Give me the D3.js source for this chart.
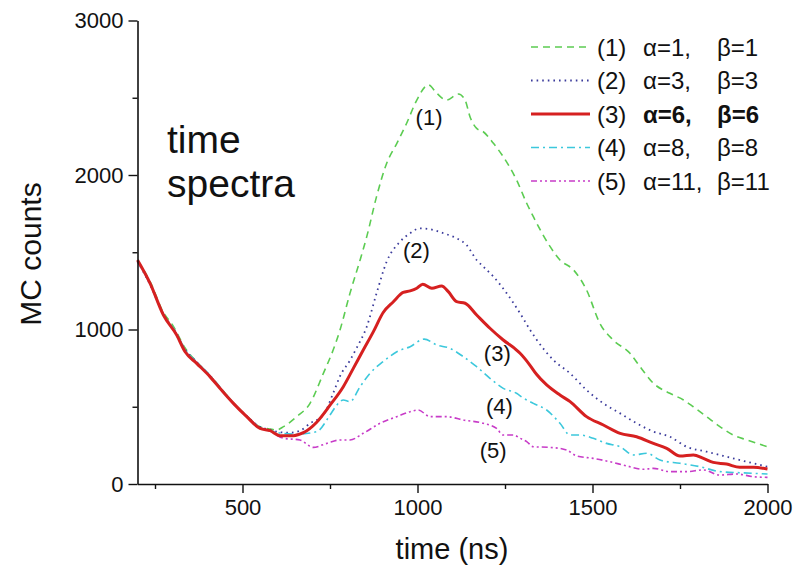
<!DOCTYPE html>
<html><head><meta charset="utf-8">
<script src="https://cdn.jsdelivr.net/npm/d3@7"></script>
<style>body{margin:0;background:#fff}svg{display:block}text{font-family:"Liberation Sans",Arial,sans-serif;fill:#111}</style>
</head><body><svg id="c" width="794" height="568"></svg>
<script>
// ---- data (time in ns, MC counts) ----
const t1 = [200,236,274,300,336,369,407,440,474,512,550,580,598,617,655,693,731,759,779,807,836,855,883,912,941,969,998,1031,1055,1083,1117,1136,1150,1169,1188,1217,1245,1283,1312,1331,1379,1407,1446,1483,1521,1559,1607,1636,1674,1721,1760,1788,1826,1864,1902,1941,2000];
const v1 = [1445,1310,1110,1030,880,790,700,615,525,440,370,355,350,371,436,522,716,867,1000,1234,1450,1601,1860,2076,2205,2335,2485,2583,2529,2485,2524,2485,2377,2302,2280,2205,2118,1968,1817,1730,1536,1450,1385,1256,1040,932,846,759,652,587,544,500,436,371,317,285,241];
const t2 = [200,236,274,300,336,369,407,440,474,512,550,580,607,636,665,693,731,759,779,807,826,855,883,912,950,979,1007,1036,1074,1112,1140,1169,1188,1217,1255,1293,1321,1341,1388,1436,1483,1531,1579,1626,1674,1721,1769,1826,1883,1941,2000];
const v2 = [1440,1290,1100,1010,870,790,700,610,520,440,370,350,335,332,345,393,447,587,700,800,880,1018,1234,1440,1568,1623,1655,1649,1623,1590,1547,1450,1407,1342,1234,1105,1000,932,803,716,608,522,457,393,339,306,241,209,177,144,112];
const t3 = [200,236,274,312,336,369,407,440,474,512,550,579,607,645,674,712,750,788,817,845,874,902,931,959,979,998,1015,1041,1069,1088,1112,1136,1169,1207,1245,1283,1293,1321,1340,1369,1407,1436,1483,1531,1579,1626,1674,1712,1750,1788,1817,1845,1883,1921,1960,2000];
const v3 = [1450,1299,1094,964,856,781,695,608,522,436,360,345,313,313,332,400,510,630,750,867,986,1110,1180,1240,1250,1267,1293,1267,1282,1245,1180,1170,1094,1008,932,867,846,770,710,641,576,533,436,382,328,306,263,231,181,188,166,140,129,108,108,97];
const t4 = [200,236,274,312,336,369,407,440,474,512,550,580,607,655,712,750,769,788,807,836,864,902,941,979,1019,1055,1093,1131,1169,1207,1245,1283,1300,1331,1369,1407,1436,1464,1502,1540,1579,1617,1655,1693,1750,1807,1864,1921,2000];
const v4 = [1440,1295,1100,975,870,790,705,615,525,440,365,345,330,322,339,446,510,544,533,630,716,792,856,889,938,900,878,824,759,684,619,587,560,522,479,393,317,317,296,263,241,188,199,155,134,112,80,73,65];
const t5 = [200,236,274,312,336,369,407,440,474,483,512,550,580,617,664,702,741,779,807,845,893,941,979,1002,1036,1083,1131,1188,1226,1245,1274,1293,1312,1331,1379,1426,1455,1502,1550,1598,1645,1674,1721,1769,1817,1864,1912,1960,2000];
const v5 = [1440,1295,1100,970,865,785,700,610,520,500,440,365,340,296,285,237,263,285,285,328,393,436,468,479,436,436,414,393,360,317,317,296,274,241,237,220,181,166,144,117,95,101,80,80,91,58,65,47,43];
const seriesNames = ["(1)","(2)","(3)","(4)","(5)"];
const alphaLabels = ["\u03b1=1,","\u03b1=3,","\u03b1=6,","\u03b1=8,","\u03b1=11,"];
const betaLabels = ["\u03b2=1","\u03b2=3","\u03b2=6","\u03b2=8","\u03b2=11"];
const xTicks = [500,1000,1500,2000];
const xMinor = [250,750,1250,1750];
const yTicks = [0,1000,2000,3000];
const yMinor = [500,1500,2500];
const curveLabels = [{s:0,t:1033,v:2325},{s:1,t:997,v:1465},{s:2,t:1228,v:795},{s:3,t:1234,v:450},{s:4,t:1216,v:168}];

// ---- styles ----
const styles = [
  {color:"#5ccc52", width:1.6, dash:"7,5"},
  {color:"#3c3c9c", width:1.8, dash:"1.6,4"},
  {color:"#d62020", width:3, dash:null},
  {color:"#3cc8dc", width:1.6, dash:"8,4,2,4"},
  {color:"#c83cc8", width:1.6, dash:"6,3,2,3,2,3"}
];

const svg = d3.select("#c");
const x = d3.scaleLinear().domain([200,2000]).range([137.5,767.5]);
const y = d3.scaleLinear().domain([0,3000]).range([484,20.5]);

const series = [[t1,v1],[t2,v2],[t3,v3],[t4,v4],[t5,v5]].map(([t,v]) => t.map((d,i)=>({t:d,v:v[i]})));
const line = d3.line().x(d=>x(d.t)).y(d=>y(d.v)).curve(d3.curveMonotoneX);

// draw in order so red is on top
[0,1,3,4,2].forEach(i=>{
  svg.append("path").datum(series[i]).attr("d",line)
    .attr("fill","none").attr("stroke",styles[i].color).attr("stroke-width",styles[i].width)
    .attr("stroke-dasharray",styles[i].dash).attr("stroke-linejoin","round");
});

// axes
const fmt = d3.format("d");
svg.append("g").attr("transform",`translate(0,${y(0)})`)
  .call(d3.axisBottom(x).tickValues(xTicks).tickFormat(fmt).tickSize(9).tickPadding(6).tickSizeOuter(0));
svg.append("g").attr("transform",`translate(0,${y(0)})`)
  .call(d3.axisBottom(x).tickValues(xMinor).tickSize(5).tickFormat("").tickSizeOuter(0))
  .select(".domain").remove();
svg.append("g").attr("transform",`translate(${x(200)},0)`)
  .call(d3.axisLeft(y).tickValues(yTicks).tickFormat(fmt).tickSize(9).tickPadding(5).tickSizeOuter(0));
svg.append("g").attr("transform",`translate(${x(200)},0)`)
  .call(d3.axisLeft(y).tickValues(yMinor).tickSize(5).tickFormat("").tickSizeOuter(0))
  .select(".domain").remove();
svg.selectAll(".domain").attr("stroke","#111").attr("stroke-width",1.6);
svg.selectAll(".tick line").attr("stroke","#111").attr("stroke-width",1.4);
svg.selectAll(".tick text").attr("font-size",22).attr("font-family","Liberation Sans, Arial, sans-serif").attr("fill","#111");

// axis titles
svg.append("text").attr("x",452).attr("y",559).attr("text-anchor","middle").attr("font-size",29).text("time (ns)");
svg.append("text").attr("transform","translate(41,254) rotate(-90)").attr("text-anchor","middle").attr("font-size",30).text("MC counts");

// inner title
svg.append("text").attr("x",167).attr("y",153).attr("font-size",39).text("time");
svg.append("text").attr("x",167).attr("y",197).attr("font-size",39).text("spectra");

// curve labels
curveLabels.forEach(c=>{
  svg.append("text").attr("x",x(c.t)).attr("y",y(c.v)).attr("text-anchor","middle").attr("font-size",22).text(seriesNames[c.s]);
});

// legend
const legY0 = 47, legDy = 33.5;
seriesNames.forEach((n,i)=>{
  const yy = legY0 + i*legDy;
  svg.append("line").attr("x1",531).attr("x2",590).attr("y1",yy).attr("y2",yy)
    .attr("stroke",styles[i].color).attr("stroke-width",styles[i].width).attr("stroke-dasharray",styles[i].dash);
  const bold = i===2 ? "bold" : "normal";
  svg.append("text").attr("x",597).attr("y",yy+8.5).attr("font-size",24).text(n);
  svg.append("text").attr("x",643).attr("y",yy+8.5).attr("font-size",24).attr("font-weight",bold).text(alphaLabels[i]);
  svg.append("text").attr("x",717).attr("y",yy+8.5).attr("font-size",24).attr("font-weight",bold).text(betaLabels[i]);
});
</script></body></html>
